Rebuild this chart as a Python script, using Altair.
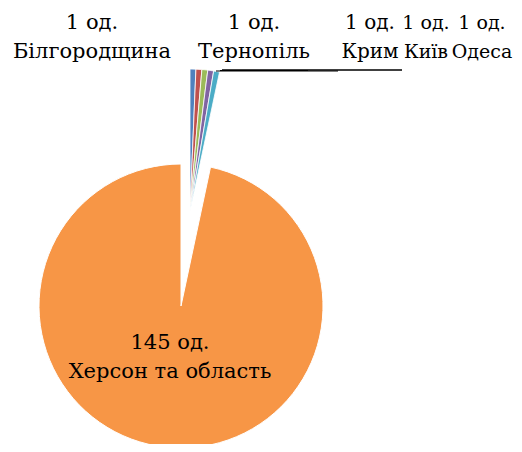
import altair as alt
import pandas as pd
import math

names = ["Білгородщина", "Тернопіль", "Крим", "Київ", "Одеса", "Херсон та область"]
values = [1, 1, 1, 1, 1, 145]
colors = ["#4F81BD", "#C0504D", "#9BBB59", "#8064A2", "#4BACC6", "#F79646"]

df = pd.DataFrame({"name": names, "value": values, "order": list(range(len(names)))})
total = sum(values)

FONT = "DejaVu Serif"
LH = 29

base = (
    alt.Chart(df)
    .transform_window(cum="sum(value)", sort=[alt.SortField("order")], frame=[None, 0])
    .transform_calculate(start="datum.cum - datum.value",
                         label="datum.value + ' од.\\n' + datum.name")
)

theta_scale = alt.Scale(domain=[0, total], range=[0, 2 * math.pi])
color_enc = alt.Color("name:N", scale=alt.Scale(domain=names, range=colors), legend=None)

big = base.transform_filter(alt.datum.name == "Херсон та область").mark_arc(
    radius=142, stroke="white", strokeWidth=1
).encode(
    theta=alt.Theta("start:Q", scale=theta_scale),
    theta2="cum:Q",
    color=color_enc,
    x=alt.value(173),
    y=alt.value(298),
)

small = base.transform_filter(alt.datum.name != "Херсон та область").mark_arc(
    radius=142, stroke="white", strokeWidth=0.8
).encode(
    theta=alt.Theta("start:Q", scale=theta_scale),
    theta2="cum:Q",
    color=color_enc,
    x=alt.value(182),
    y=alt.value(203),
)

def leader(name, x1, x2, y, w):
    return base.transform_filter(alt.datum.name == name).mark_rule(
        color="black", strokeWidth=w
    ).encode(x=alt.value(x1), x2=alt.value(x2), y=alt.value(y))

lines = [
    leader("Крим", 214, 394, 62, 1.5),
    leader("Тернопіль", 208, 330, 63, 1.2),
    leader("Київ", 212, 300, 62.5, 1),
]

label_pos = {
    "Білгородщина": (84, 15, 21),
    "Тернопіль": (246, 15, 21),
    "Крим": (362, 15, 20),
    "Київ": (418, 15, 19),
    "Одеса": (474, 15, 19),
    "Херсон та область": (162, 335, 21),
}

texts = []
for n, (lx, ly, fs) in label_pos.items():
    texts.append(
        base.transform_filter(alt.datum.name == n).mark_text(
            font=FONT, fontSize=fs, lineBreak="\n", lineHeight=LH,
            align="center", baseline="middle", color="black"
        ).encode(text="label:N", x=alt.value(lx), y=alt.value(ly))
    )

chart = alt.layer(big, small, *lines, *texts).properties(
    width=506, height=436, padding=0, autosize=alt.AutoSizeParams(type="none")
).configure_view(stroke=None).configure_text(font=FONT)

chart.save("out.html", embed_options={"renderer": "svg", "actions": False})
